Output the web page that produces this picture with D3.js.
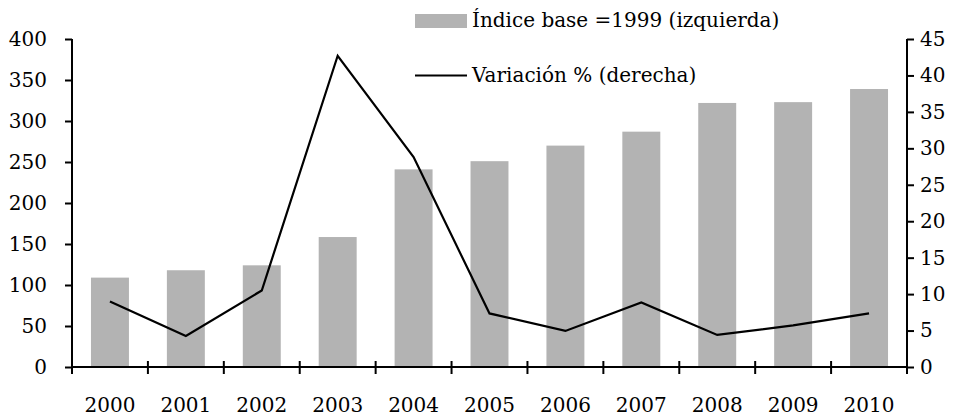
<!DOCTYPE html>
<html><head><meta charset="utf-8">
<script src="https://cdn.jsdelivr.net/npm/d3@7"></script>
<style>body{margin:0;background:#fff}svg{display:block}</style>
</head><body><svg id="c" width="959" height="418"></svg>
<script>
const years = ["2000","2001","2002","2003","2004","2005","2006","2007","2008","2009","2010"];
const indexValues = [109,118,124,158.5,241,251,270,287,322,323,339];
const variationValues = [9.0,4.25,10.5,42.7,28.8,7.35,4.95,8.85,4.4,5.7,7.35];
const leftTicks = [0,50,100,150,200,250,300,350,400];
const rightTicks = [0,5,10,15,20,25,30,35,40,45];
const legendLabels = ["Índice base =1999 (izquierda)","Variación % (derecha)"];

const svg = d3.select("#c");
const L = 72, R = 907, T = 39, B = 367;
const x = d3.scaleBand().domain(years).range([L,R]).paddingInner(0).paddingOuter(0);
const yL = d3.scaleLinear().domain([0,400]).range([B,T]);
const yR = d3.scaleLinear().domain([0,45]).range([B,T]);
const fs = 20;
const ff = "'DejaVu Serif', serif";

// bars
const bw = x.bandwidth()*0.5;
svg.append("g").selectAll("rect").data(years).join("rect")
  .attr("x", d=>x(d)+x.bandwidth()/2-bw/2)
  .attr("width", bw)
  .attr("y", (d,i)=>yL(indexValues[i]))
  .attr("height", (d,i)=>B-yL(indexValues[i]))
  .attr("fill","#b3b3b3");

// line
const line = d3.line().x((d,i)=>x(years[i])+x.bandwidth()/2).y(d=>yR(d));
svg.append("path").datum(variationValues).attr("d",line)
  .attr("fill","none").attr("stroke","#000").attr("stroke-width",2.2);

// left axis
const gl = svg.append("g").attr("transform",`translate(${L},0)`)
  .call(d3.axisLeft(yL).tickValues(leftTicks).tickSize(7).tickPadding(18));
// right axis
const gr = svg.append("g").attr("transform",`translate(${R},0)`)
  .call(d3.axisRight(yR).tickValues(rightTicks).tickSize(7).tickPadding(6));
// bottom axis: labels at band centres, ticks at band boundaries
const gb = svg.append("g").attr("transform",`translate(0,${B})`)
  .call(d3.axisBottom(x).tickSize(0));
gb.select(".domain").remove();
gb.selectAll(".tick text").attr("y",45).attr("dy",0);
svg.append("line").attr("x1",L).attr("x2",R).attr("y1",B).attr("y2",B).attr("stroke","#000").attr("stroke-width",2);
const bounds = years.map(d=>x(d)).concat([R]);
svg.append("g").selectAll("line").data(bounds).join("line")
  .attr("x1",d=>d).attr("x2",d=>d).attr("y1",B-6).attr("y2",B+7)
  .attr("stroke","#000").attr("stroke-width",2);

[gl,gr].forEach(g=>{
  g.select(".domain").attr("stroke","#000").attr("stroke-width",2).attr("d", `M0,${T}V${B}`);
  g.selectAll(".tick line").attr("stroke","#000").attr("stroke-width",2);
});
[gl,gr,gb].forEach(g=>g.attr("font-family",ff).attr("font-size",fs));
svg.selectAll(".tick text").style("font-family",ff).style("font-size",fs+"px").attr("fill","#000");
gl.selectAll(".tick text").attr("x",-25);

// legend
const lg = svg.append("g").style("font-family",ff).style("font-size",fs+"px");
lg.append("rect").attr("x",415).attr("y",14).attr("width",52).attr("height",14).attr("fill","#b3b3b3");
lg.append("text").attr("x",472).attr("y",27).text(legendLabels[0]);
lg.append("line").attr("x1",415).attr("x2",467).attr("y1",75.5).attr("y2",75.5).attr("stroke","#000").attr("stroke-width",2);
lg.append("text").attr("x",472).attr("y",82).text(legendLabels[1]);
</script></body></html>
